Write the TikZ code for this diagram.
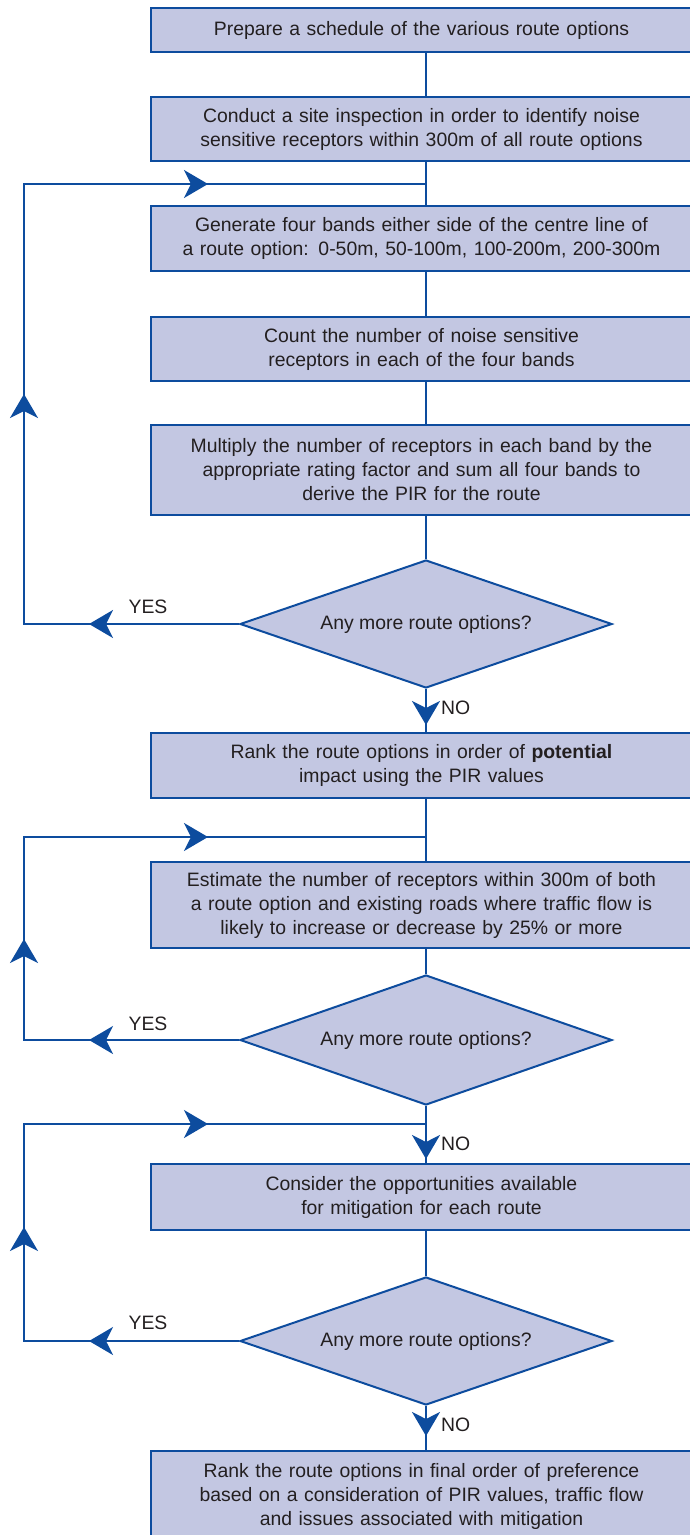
\documentclass[tikz,border=0pt]{standalone}
\usepackage{fontspec}
\setmainfont{Liberation Sans}
\usetikzlibrary{arrows.meta,shapes.geometric,decorations.markings}
\definecolor{boxfill}{HTML}{C3C7E2}
\definecolor{lineblue}{HTML}{0D4C9E}
\definecolor{txtgray}{HTML}{231F20}
\tikzset{
  mytip/.tip={Stealth[length=24pt,width=28pt,inset=7pt]},
}
\begin{document}
\begin{tikzpicture}[x=1pt,y=-1pt,
  every node/.style={font=\fontsize{19.4}{24}\selectfont, text=txtgray},
  box/.style={draw=lineblue, fill=boxfill, line width=2.2pt, minimum width=541pt,
    text width=535pt, align=center, inner sep=0pt},
  dia/.style={diamond, draw=lineblue, fill=boxfill, line width=2pt, aspect=2.9,
    minimum width=372pt, minimum height=128pt, inner sep=0pt},
  flow/.style={color=lineblue, line width=2pt},
  lab/.style={inner sep=0pt},
]
\useasboundingbox (0,0) rectangle (690,1535);
\coordinate (lx) at (24,0);
% boxes
\node[box, minimum height=44pt] (b1) at (421.5,30) {Prepare a schedule of the various route options};
\node[box, minimum height=64pt] (b2) at (421.5,129) {Conduct a site inspection in order to identify noise\\sensitive receptors within 300m of all route options};
\node[box, minimum height=65pt] (b3) at (421.5,238.5) {Generate four bands either side of the centre line of\\a route option: 0-50m, 50-100m, 100-200m, 200-300m};
\node[box, minimum height=64pt] (b4) at (421.5,349) {Count the number of noise sensitive\\receptors in each of the four bands};
\node[box, minimum height=90pt] (b5) at (421.5,470) {Multiply the number of receptors in each band by the\\appropriate rating factor and sum all four bands to\\derive the PIR for the route};
\node[dia] (d1) at (426,624) {Any more route options?};
\node[box, minimum height=65pt] (b6) at (421.5,765.5) {Rank the route options in order of \textbf{potential}\\impact using the PIR values};
\node[box, minimum height=86pt] (b7) at (421.5,905) {Estimate the number of receptors within 300m of both\\a route option and existing roads where traffic flow is\\likely to increase or decrease by 25\% or more};
\node[dia, minimum height=130pt] (d2) at (426,1040) {Any more route options?};
\node[box, minimum height=66pt] (b8) at (421.5,1197) {Consider the opportunities available\\for mitigation for each route};
\node[dia] (d3) at (426,1341) {Any more route options?};
\node[box, minimum height=90pt] (b9) at (421.5,1496) {Rank the route options in final order of preference\\based on a consideration of PIR values, traffic flow\\and issues associated with mitigation};
% junctions
\coordinate (j1) at (426,184);
\coordinate (j2) at (426,837);
\coordinate (j3) at (426,1124);
% straight connectors
\draw[flow] (b1.south -| d1) -- (b2.north -| d1);
\draw[flow] (b2.south -| d1) -- (b3.north -| d1);
\draw[flow] (b3.south -| d1) -- (b4.north -| d1);
\draw[flow] (b4.south -| d1) -- (b5.north -| d1);
\draw[flow] (b5.south -| d1) -- (d1.north);
\draw[flow, postaction={decorate}, decoration={markings, mark=at position 36pt with {\arrow{mytip}}}] (d1.south) -- (b6.north -| d1);
\draw[flow] (b6.south -| d1) -- (b7.north -| d1);
\draw[flow] (b7.south -| d2) -- (d2.north);
\draw[flow] (d2.south) -- (j3);
\draw[flow, postaction={decorate}, decoration={markings, mark=at position 35pt with {\arrow{mytip}}}] (j3) -- (b8.north -| d2);
\draw[flow] (b8.south -| d3) -- (d3.north);
\draw[flow, postaction={decorate}, decoration={markings, mark=at position 30pt with {\arrow{mytip}}}] (d3.south) -- (b9.north -| d3);
% loops
\draw[flow, postaction={decorate}, decoration={markings,
   mark=at position 150pt with {\arrow{mytip}},
   mark=at position 445pt with {\arrow{mytip}},
   mark=at position 839pt with {\arrow{mytip}}}]
  (d1.west) -- (d1.west -| lx) -- (lx |- j1) -- (j1);
\draw[flow, postaction={decorate}, decoration={markings,
   mark=at position 150pt with {\arrow{mytip}},
   mark=at position 316pt with {\arrow{mytip}},
   mark=at position 602pt with {\arrow{mytip}}}]
  (d2.west) -- (d2.west -| lx) -- (lx |- j2) -- (j2);
\draw[flow, postaction={decorate}, decoration={markings,
   mark=at position 150pt with {\arrow{mytip}},
   mark=at position 329pt with {\arrow{mytip}},
   mark=at position 616pt with {\arrow{mytip}}}]
  (d3.west) -- (d3.west -| lx) -- (lx |- j3) -- (j3);
% labels
\node[lab] (y1) at (148,607) {YES};
\node[lab] (y2) at (148,1024) {YES};
\node[lab] (y3) at (148,1323) {YES};
\node[lab, anchor=west] (n1) at (441,708) {NO};
\node[lab, anchor=west] (n2) at (441,1144) {NO};
\node[lab, anchor=west] (n3) at (441,1425) {NO};
\end{tikzpicture}
\end{document}
